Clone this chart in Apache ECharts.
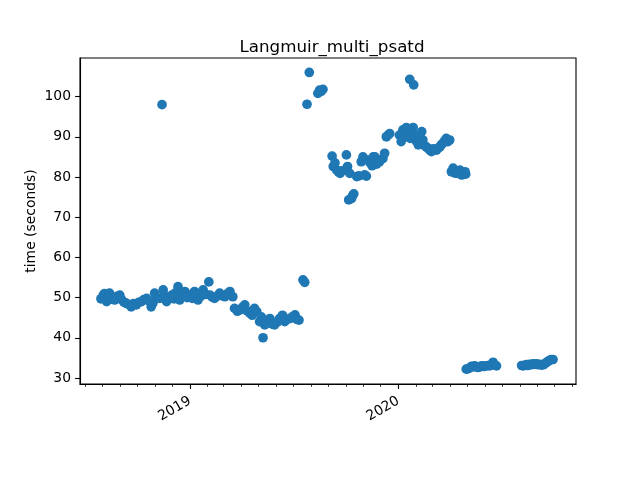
<!DOCTYPE html>
<html>
<head>
<meta charset="utf-8">
<script src="https://cdn.jsdelivr.net/npm/echarts@6/dist/echarts.min.js"></script>
<style>
html,body{margin:0;padding:0;background:#fff;}
#chart{width:640px;height:480px;}
</style>
</head>
<body>
<div id="chart"></div>
<script>
// ---- data (run date, time in seconds) ----
const dates = [
 '2018-07-29','2018-08-02','2018-08-04','2018-08-08','2018-08-10','2018-08-13','2018-08-17','2018-08-22','2018-08-26','2018-08-31',
 '2018-09-03','2018-09-07','2018-09-11','2018-09-15','2018-09-20','2018-09-24','2018-09-29','2018-10-03','2018-10-08','2018-10-12',
 '2018-10-17','2018-10-21','2018-10-25','2018-10-28','2018-10-31','2018-11-04','2018-11-09','2018-11-13','2018-11-15','2018-11-18',
 '2018-11-21','2018-11-25','2018-11-30','2018-12-04','2018-12-07','2018-12-11','2018-12-14','2018-12-18','2018-12-23','2018-12-27',
 '2019-01-01','2019-01-05','2019-01-09','2019-01-15','2019-01-20','2019-01-24','2019-01-29','2019-02-03','2019-02-05','2019-02-09',
 '2019-02-13','2019-02-18','2019-02-22','2019-02-26','2019-03-03','2019-03-07','2019-03-12','2019-03-17','2019-03-20','2019-03-25',
 '2019-03-29','2019-04-03','2019-04-07','2019-04-11','2019-04-16','2019-04-20','2019-04-24','2019-04-28','2019-05-03','2019-05-06',
 '2019-05-09','2019-05-12','2019-05-16','2019-05-21','2019-05-25','2019-05-29','2019-06-03','2019-06-07','2019-06-12','2019-06-16',
 '2019-06-20','2019-06-25','2019-06-29','2019-07-04','2019-07-07','2019-07-11','2019-07-18','2019-07-21','2019-07-25','2019-07-29',
 '2019-08-13','2019-08-16','2019-08-19','2019-08-22',
 '2019-09-07','2019-09-09','2019-09-12','2019-09-15','2019-09-18','2019-09-21','2019-09-24','2019-09-29','2019-10-02','2019-10-04',
 '2019-10-06','2019-10-08','2019-10-11','2019-10-13','2019-10-15','2019-10-20','2019-10-24','2019-10-28','2019-10-31','2019-11-03',
 '2019-11-06','2019-11-09','2019-11-12','2019-11-16','2019-11-18','2019-11-21','2019-11-24','2019-11-29','2019-12-05','2019-12-08',
 '2019-12-11','2019-12-14','2019-12-17',
 '2020-01-03','2020-01-06','2020-01-09','2020-01-12','2020-01-15','2020-01-18','2020-01-21','2020-01-22','2020-01-24','2020-01-27',
 '2020-01-28','2020-01-30','2020-02-01','2020-02-05','2020-02-08','2020-02-11','2020-02-13','2020-02-16','2020-02-19','2020-02-22',
 '2020-02-25','2020-02-28','2020-03-02','2020-03-05','2020-03-08','2020-03-11','2020-03-14','2020-03-16','2020-03-19','2020-03-22',
 '2020-03-25','2020-03-28','2020-03-31',
 '2020-04-03','2020-04-06','2020-04-09','2020-04-12','2020-04-15','2020-04-18','2020-04-21','2020-04-24','2020-04-27','2020-04-28',
 '2020-04-29','2020-05-02','2020-05-05','2020-05-08','2020-05-11','2020-05-14','2020-05-17','2020-05-20','2020-05-23','2020-05-26',
 '2020-05-29','2020-05-31','2020-06-03','2020-06-06','2020-06-09','2020-06-12','2020-06-15','2020-06-18','2020-06-21',
 '2020-08-04','2020-08-07','2020-08-10','2020-08-13','2020-08-15','2020-08-18','2020-08-21','2020-08-24','2020-08-27','2020-08-30',
 '2020-09-02','2020-09-05','2020-09-08','2020-09-11','2020-09-14','2020-09-17','2020-09-19','2020-09-22','2020-09-25','2020-09-28'
];
const times = [
 49.7,50.6,51.0,49.0,50.2,51.1,49.6,49.4,50.3,50.6,
 49.5,48.9,48.6,48.3,47.7,48.5,48.2,48.8,49.0,49.5,
 49.8,49.2,47.7,48.6,51.1,50.0,49.8,98.0,51.9,50.4,
 49.0,50.0,50.6,49.7,51.2,52.7,49.4,50.8,51.5,50.0,
 50.6,49.8,51.5,49.4,50.3,51.9,50.8,53.9,50.6,50.1,
 49.8,50.4,51.1,50.5,50.2,50.9,51.5,50.2,47.3,46.6,
 46.9,47.6,48.2,46.7,46.1,45.6,47.3,46.5,44.0,45.2,
 40.0,43.2,43.8,44.8,43.4,43.2,43.9,44.8,45.6,44.0,
 44.6,44.8,45.2,45.7,44.6,44.4,54.4,53.8,98.1,106.0,
 100.8,101.6,101.3,101.8,
 85.2,82.6,83.5,81.7,81.3,80.9,81.5,81.7,85.5,82.6,
 74.3,80.9,74.6,75.4,75.8,80.1,80.3,83.8,85.0,80.5,
 80.2,84.2,83.6,82.8,85.0,85.0,83.2,83.8,84.6,85.9,
 90.0,90.4,90.8,
 90.4,88.8,91.7,90.0,92.3,90.0,104.3,89.6,91.0,92.3,
 102.9,90.4,89.0,88.0,90.5,91.3,89.2,87.8,87.5,87.1,
 86.7,86.3,87.0,86.8,86.7,87.2,87.5,88.0,88.4,89.0,
 89.6,88.8,89.2,
 81.3,82.2,81.0,80.9,81.2,81.7,80.5,81.0,81.3,80.7,
 32.2,32.3,32.5,32.9,32.8,33.0,32.7,32.6,32.8,33.0,
 32.9,32.9,33.0,33.1,33.0,33.3,33.9,33.2,33.0,
 33.1,33.0,33.2,33.3,33.1,33.4,33.3,33.5,33.4,33.5,
 33.3,33.4,33.2,33.3,33.6,33.9,34.1,34.4,34.6,34.6
];
const yTicks = [30, 40, 50, 60, 70, 80, 90, 100];
const xMajorTicks = ['2019-01-01', '2020-01-01'];
const xMinorTicks = [
 '2018-07-01','2018-08-01','2018-09-01','2018-10-01','2018-11-01','2018-12-01',
 '2019-02-01','2019-03-01','2019-04-01','2019-05-01','2019-06-01','2019-07-01','2019-08-01','2019-09-01','2019-10-01','2019-11-01','2019-12-01',
 '2020-02-01','2020-03-01','2020-04-01','2020-05-01','2020-06-01','2020-07-01','2020-08-01','2020-09-01','2020-10-01','2020-11-01'
];
const xRange = ['2018-06-22T07:00:00Z', '2020-11-07T07:00:00Z'];
const yRange = [28.5, 109.6];

const ts = s => Date.parse(s.length === 10 ? s + 'T00:00:00Z' : s);
const points = dates.map((d, i) => [ts(d), times[i]]);

const font = 'DejaVu Sans';
const chart = echarts.init(document.getElementById('chart'), null, {renderer: 'canvas'});
const xmin = ts(xRange[0]), xmax = ts(xRange[1]);
chart.setOption({
  animation: false,
  backgroundColor: '#fff',
  title: {
    text: 'Langmuir_multi_psatd',
    left: 327, top: 34, textAlign: 'center',
    textStyle: {fontFamily: font, fontSize: 16.7, fontWeight: 'normal', color: '#000'}
  },
  grid: {left: 80, right: 64, top: 58, bottom: 96, show: true, borderColor: '#000', borderWidth: 1.1, backgroundColor: 'transparent'},
  xAxis: [{
    type: 'value', min: xmin, max: xmax, scale: true,
    axisLine: {show: true, lineStyle: {color: '#000', width: 1.1}},
    axisTick: {show: true, length: 4.9, inside: false, lineStyle: {color: '#000', width: 1.1}, customValues: xMajorTicks.map(ts)},
    axisLabel: {show: true, rotate: 30, margin: 16, color: '#000', fontFamily: font, fontSize: 13.9,
      customValues: xMajorTicks.map(ts),
      formatter: v => String(new Date(v).getUTCFullYear())},
    splitLine: {show: false}
  }, {
    type: 'value', min: xmin, max: xmax, scale: true, position: 'bottom',
    axisLine: {show: false},
    axisTick: {show: true, length: 2.8, inside: false, lineStyle: {color: '#000', width: 0.8}, customValues: xMinorTicks.map(ts)},
    axisLabel: {show: false},
    splitLine: {show: false}
  }],
  yAxis: {
    type: 'value', min: yRange[0], max: yRange[1],
    name: 'time (seconds)', nameLocation: 'middle', nameGap: 42, nameRotate: 90, nameMoveOverlap: false,
    nameTextStyle: {fontFamily: font, fontSize: 13.9, color: '#000'},
    axisLine: {show: true, lineStyle: {color: '#000', width: 1.1}},
    axisTick: {show: true, length: 4.9, inside: false, lineStyle: {color: '#000', width: 1.1}, customValues: yTicks},
    axisLabel: {show: true, margin: 9, color: '#000', fontFamily: font, fontSize: 13.9, customValues: yTicks},
    splitLine: {show: false}
  },
  series: [{
    type: 'scatter', xAxisIndex: 0,
    data: points,
    symbol: 'circle', symbolSize: 9.7,
    itemStyle: {color: '#1f77b4', opacity: 1},
    emphasis: {disabled: true}
  }]
});
</script>
</body>
</html>
